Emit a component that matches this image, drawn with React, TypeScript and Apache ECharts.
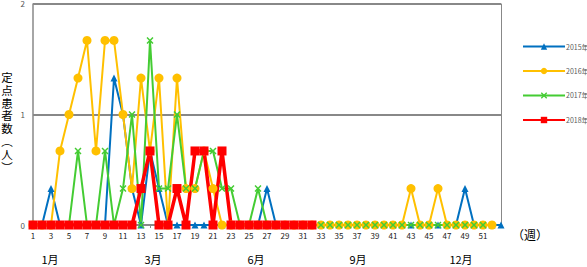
import React, { useEffect, useRef } from "react";
import * as echarts from "echarts";

const weeks: string[] = Array.from({ length: 53 }, (_, i) => String(i + 1));
const seriesNames = ["2015年", "2016年", "2017年", "2018年"];
const s2015 = [0, 0, 0.33, 0, 0, 0, 0, 0, 0, 1.33, 1, 0.33, 0, 0.67, 0.33, 0, 0, 0, 0, 0, 0, 0, 0, 0, 0, 0, 0.33, 0, 0, 0, 0, 0, 0, 0, 0, 0, 0, 0, 0, 0, 0, 0, 0, 0, 0, 0, 0, 0, 0.33, 0, 0, 0, 0];
const s2016 = [0, 0, 0, 0.67, 1, 1.33, 1.67, 0.67, 1.67, 1.67, 1, 0.33, 1.33, 0.67, 1.33, 0, 1.33, 0.33, 0.33, 0.67, 0.33, 0, 0, 0, 0, 0, 0, 0, 0, 0, 0, 0, 0, 0, 0, 0, 0, 0, 0, 0, 0, 0, 0.33, 0, 0, 0.33, 0, 0, 0, 0, 0, 0];
const s2017 = [0, 0, 0, 0, 0, 0.67, 0, 0, 0.67, 0, 0.33, 1, 0, 1.67, 0.33, 0.33, 1, 0.33, 0.33, 0.67, 0.67, 0.33, 0.33, 0, 0, 0.33, 0, 0, 0, 0, 0, 0, 0, 0, 0, 0, 0, 0, 0, 0, 0, 0, 0, 0, 0, 0, 0, 0, 0, 0, 0];
const s2018 = [0, 0, 0, 0, 0, 0, 0, 0, 0, 0, 0, 0, 0.33, 0.67, 0, 0, 0.33, 0, 0.67, 0.67, 0, 0.67, 0, 0, 0, 0, 0, 0, 0, 0, 0, 0];
const monthLabels = ["1月", "3月", "6月", "9月", "12月"];
const yAxisTitle = "定点患者数︵人︶";
const weekUnit = "（週）";

const colors = ["#0070C0", "#FFC000", "#44CC33", "#FF0000"];
const crossPath =
  "path://M0,1.5 L1.5,0 L5,3.5 L8.5,0 L10,1.5 L6.5,5 L10,8.5 L8.5,10 L5,6.5 L1.5,10 L0,8.5 L3.5,5 Z";

export default function App() {
  const ref = useRef<HTMLDivElement>(null);
  useEffect(() => {
    if (!ref.current) return;
    document.body.style.margin = "0";
    const chart = echarts.init(ref.current, undefined, { renderer: "svg" });
    const font = "'Noto Sans CJK JP', 'Noto Sans', sans-serif";
    const monthX = [50, 153, 256, 358, 461];
    const titleChars = yAxisTitle.split("");
    chart.setOption({
      animation: false,
      textStyle: { fontFamily: font },
      grid: { left: 33, right: 86, top: 2, bottom: 42, containLabel: false },
      legend: {
        orient: "vertical",
        left: 517,
        top: 38,
        itemWidth: 42,
        itemHeight: 8,
        itemGap: 17.5,
        textStyle: { fontSize: 7, color: "#595959", fontFamily: font, padding: [0, 0, 0, -4] },
        data: seriesNames,
      },
      xAxis: {
        type: "category",
        data: weeks,
        boundaryGap: false,
        axisLine: { show: true, lineStyle: { color: "#888888", width: 1 } },
        axisTick: { show: true, length: 3, interval: 0, lineStyle: { color: "#888888" } },
        axisLabel: {
          interval: (i: number) => i % 2 === 0 && i < 52,
          fontSize: 8,
          color: "#222",
          margin: 6,
        },
        splitLine: { show: false },
      },
      yAxis: [
        {
          type: "value",
          min: 0,
          max: 2,
          interval: 1,
          axisLine: { show: true, lineStyle: { color: "#888888", width: 1.5 } },
          axisTick: { show: false },
          axisLabel: { fontSize: 8, color: "#555", margin: 8 },
          splitLine: { show: true, lineStyle: { color: "#888888", width: 2 } },
        },
        {
          type: "value",
          position: "right",
          min: 0,
          max: 2,
          interval: 1,
          axisLine: { show: true, lineStyle: { color: "#888888", width: 1 } },
          axisTick: { show: true, length: 2, inside: true, lineStyle: { color: "#888888" } },
          axisLabel: { show: false },
          splitLine: { show: false },
        },
      ],
      series: [
        {
          name: seriesNames[0],
          type: "line",
          data: s2015,
          color: colors[0],
          symbol: "triangle",
          symbolSize: 7,
          lineStyle: { width: 2 },
        },
        {
          name: seriesNames[1],
          type: "line",
          data: s2016,
          color: colors[1],
          symbol: "circle",
          symbolSize: 9,
          lineStyle: { width: 2 },
        },
        {
          name: seriesNames[2],
          type: "line",
          data: s2017,
          color: colors[2],
          symbol: crossPath,
          symbolSize: 7,
          lineStyle: { width: 2 },
        },
        {
          name: seriesNames[3],
          type: "line",
          data: s2018,
          color: colors[3],
          symbol: "rect",
          symbolSize: 9,
          lineStyle: { width: 3.5 },
        },
      ].map((s) => ({ ...s, showAllSymbol: true, itemStyle: { opacity: 1 } })),
      graphic: [
        ...titleChars.map((c, i) => ({
          type: "text",
          x: 7,
          y: 77 + i * 12.8,
          style: {
            text: c,
            font: `11.5px ${font}`,
            lineHeight: 12,
            fill: "#000",
            align: "center",
            verticalAlign: "middle",
          },
        })),
        {
          type: "text",
          x: 512,
          y: 228,
          style: { text: weekUnit, font: `12px ${font}`, fill: "#000" },
        },
        ...monthLabels.map((m, i) => ({
          type: "text",
          x: monthX[i],
          y: 259,
          style: {
            text: m,
            font: `11px ${font}`,
            fill: "#000",
            align: "center",
            verticalAlign: "middle",
          },
        })),
      ],
    });
    return () => chart.dispose();
  }, []);
  return <div ref={ref} style={{ width: 587, height: 267 }} />;
}
